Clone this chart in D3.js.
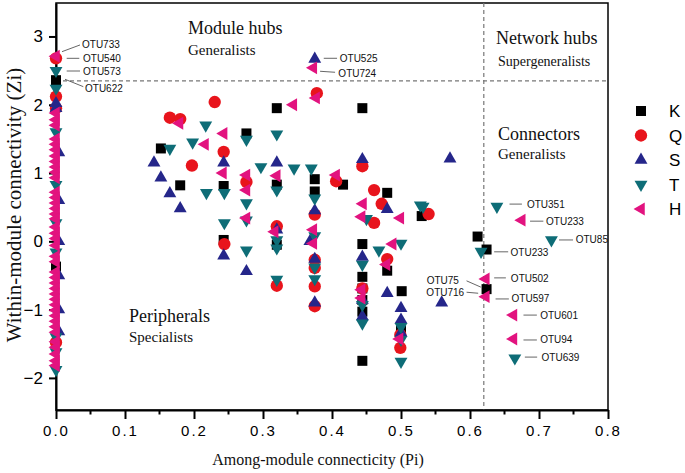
<!DOCTYPE html>
<html>
<head>
<meta charset="utf-8">
<script src="https://cdn.jsdelivr.net/npm/d3@7"></script>
<style>
  body { margin: 0; background: #fff; }
  .tick text { font-family: "Liberation Sans", Arial, sans-serif; fill: #000; }
  .region { font-family: "Liberation Serif", "Times New Roman", serif; fill: #111; }
  .otu { font-family: "Liberation Sans", Arial, sans-serif; font-size: 10px; fill: #111; }
</style>
</head>
<body>
<div id="viz"></div>
<script>
// Pi (among-module) / Zi (within-module) pairs
let kPoints = [[0,2.36],[0,-0.37],[0.152,1.36],[0.180,0.82],[0.243,0.81],[0.243,0.02],[0.276,1.58],
  [0.320,1.95],[0.320,0.83],[0.320,-0.05],[0.375,0.91],[0.375,0.73],[0.416,0.83],[0.444,1.95],[0.444,-0.04],
  [0.444,-0.52],[0.444,-0.69],[0.444,-0.86],[0.444,-1.03],[0.444,-1.75],[0.480,0.71],[0.480,-0.43],
  [0.501,-0.73],[0.500,-1.30],[0.530,0.37],[0.611,0.07],[0.624,-0.12],[0.624,-0.70]];
let qPoints = [[0,2.68],[0,2.12],[0,1.95],[0,-1.48],[0.230,2.04],[0.165,1.81],[0.180,1.79],[0.243,1.31],
  [0.197,1.11],[0.244,-0.04],[0.378,2.17],[0.444,1.10],[0.406,0.88],[0.276,0.87],[0.461,0.75],[0.472,0.55],
  [0.461,0.27],[0.540,0.40],[0.320,0.22],[0.320,-0.65],[0.375,0.39],[0.375,-0.27],[0.375,-0.39],
  [0.375,-0.66],[0.375,-0.95],[0.480,-0.26],[0.444,-0.69],[0.499,-1.56],[0.499,-1.37]];
let sPoints = [[0,2.02],[0,1.95],[0.004,1.30],[0.004,0.60],[0.004,0.00],[0.004,-0.50],[0.004,-1.00],
  [0.004,-1.32],[0.375,2.67],[0.142,1.15],[0.152,0.93],[0.165,0.70],[0.180,0.48],[0.243,1.15],[0.243,-0.21],
  [0.276,-0.44],[0.320,1.15],[0.320,0.17],[0.444,1.20],[0.571,1.21],[0.375,0.45],[0.480,0.47],[0.368,0.00],
  [0.375,-0.26],[0.375,-0.90],[0.444,-0.23],[0.444,-0.86],[0.444,-1.10],[0.480,-0.76],[0.500,-0.98],
  [0.500,-1.15],[0.500,-1.34],[0.559,-0.90]];
let tPoints = [[0,2.50],[0,2.24],[0,1.60],[0,0.83],[0,0.27],[0,-0.16],[0,-1.40],[0,-1.62],[0,-1.88],
  [0.217,1.70],[0.198,1.45],[0.165,1.36],[0.276,1.49],[0.218,0.71],[0.244,0.71],[0.244,0.27],[0.276,0.56],
  [0.276,0.31],[0.276,-0.13],[0.297,1.09],[0.320,1.57],[0.320,0.75],[0.320,0.02],[0.320,-0.10],[0.320,-0.56],
  [0.345,1.07],[0.370,1.07],[0.375,0.63],[0.375,0.08],[0.375,-0.38],[0.375,-0.55],[0.444,-0.34],
  [0.444,-0.93],[0.444,-1.20],[0.450,0.33],[0.468,-0.13],[0.500,-0.03],[0.528,0.53],[0.532,0.51],
  [0.500,-1.25],[0.500,-1.44],[0.500,-1.76],[0.616,-0.15],[0.639,0.51],[0.718,0.02],[0.665,-1.71]];
let hPoints = [[0,2.71],[0,1.88],[0,1.78],[0,1.70],[0,1.50],[0,1.42],[0,1.34],[0,1.25],[0,1.17],[0,1.09],
  [0,1.01],[0,0.93],[0,0.72],[0,0.64],[0,0.56],[0,0.48],[0,0.40],[0,0.33],[0,0.21],[0,0.12],[0,0.04],
  [0,-0.06],[0,-0.22],[0,-0.30],[0,-0.45],[0,-0.53],[0,-0.61],[0,-0.69],[0,-0.77],[0,-0.85],[0,-0.93],
  [0,-1.01],[0,-1.09],[0,-1.17],[0,-1.25],[0,-1.33],[0,-1.47],[0,-1.55],[0,-1.65],[0,-1.75],[0,-1.82],
  [0.373,2.54],[0.377,2.10],[0.344,2.00],[0.179,1.73],[0.243,1.58],[0.216,1.42],
  [0.242,1.00],[0.276,0.97],[0.276,0.75],[0.320,0.96],[0.406,0.97],[0.445,0.55],[0.443,0.36],[0.499,0.34],
  [0.488,-0.04],[0.479,-0.34],[0.276,0.34],[0.317,0.14],[0.373,0.17],[0.373,-0.03],[0.443,-0.71],
  [0.443,-0.83],[0.498,-1.43],[0.623,-0.55],[0.623,-0.81],[0.675,0.31],[0.663,-1.08],[0.663,-1.43]];

let seriesNames = ['K','Q','S','T','H'];
let seriesColors = ['#000000','#e8141c','#25268a','#0e6d77','#e2137f'];
let xTicks = [0,0.1,0.2,0.3,0.4,0.5,0.6,0.7,0.8];
let yTicks = [-2,-1,0,1,2,3];
let hubZi = 2.35, connPi = 0.62;

// labelled OTUs: [name, Pi, Zi, line x1,y1,x2,y2 and text x,y offsets in px, anchor]
let otuLabels = [
  ['OTU733',0,2.71, 6,-4.6,24,-11.3, 26,-8,'start'],
  ['OTU540',0,2.68, 10.7,0,23.3,0, 27,3.7,'start'],
  ['OTU573',0,2.50, 10.7,0.4,24,0.4, 27,4,'start'],
  ['OTU622',0,2.36, 9,-0.9,27.3,6.5, 29,12,'start'],
  ['OTU525',0.375,2.67, 9,-0.7,22.3,-0.7, 25,3,'start'],
  ['OTU724',0.373,2.54, 6.7,3.4,21.7,4.4, 25,8.7,'start'],
  ['OTU351',0.639,0.51, 12.6,-2.4,25,-2.4, 30,1.3,'start'],
  ['OTU233',0.675,0.31, 8.3,1,21.6,1, 24.3,4.5,'start'],
  ['OTU85',0.718,0.02, 7.6,0,21.6,0, 24.3,3.5,'start'],
  ['OTU233',0.624,-0.12, 7.6,2.3,21.6,2.3, 24,6,'start'],
  ['OTU502',0.623,-0.55, 8.3,-1,20,-1, 25,3.2,'start'],
  ['OTU597',0.623,-0.81, 9.7,2.3,23,2.3, 25.7,5.8,'start'],
  ['OTU75',0.624,-0.70, -20,-8.3,-5.7,-2, -27.7,-5,'end'],
  ['OTU716',0.623,-0.81, -19.3,-4.4,-7.7,-3.4, -21.7,-0.7,'end'],
  ['OTU601',0.663,-1.08, 10,0,23.4,0, 26.7,3.5,'start'],
  ['OTU94',0.663,-1.43, 10,1,23.4,1, 26.7,4.2,'start'],
  ['OTU639',0.665,-1.71, 10,-1,22.3,-1, 26.7,2.7,'start']
];

let width = 685, height = 473;
let x = d3.scaleLinear().domain([0,0.8]).range([56,608]);
let y = d3.scaleLinear().domain([-2.47,3.49]).range([410,3]);

let svg = d3.select('#viz').append('svg')
    .attr('width',width).attr('height',height)
    .style('font-family','Liberation Sans, Arial, sans-serif');

// frame
svg.append('rect')
    .attr('x',x(0)).attr('y',y(3.49))
    .attr('width',x(0.8)-x(0)).attr('height',y(-2.47)-y(3.49))
    .attr('fill','none').attr('stroke','#000').attr('stroke-width',1.5);

// threshold lines
svg.append('line')
    .attr('x1',x(0)).attr('x2',x(0.8)).attr('y1',y(hubZi)).attr('y2',y(hubZi))
    .attr('stroke','#777').attr('stroke-width',1.2).attr('stroke-dasharray','4,3');
svg.append('line')
    .attr('x1',x(connPi)).attr('x2',x(connPi)).attr('y1',y(3.49)).attr('y2',y(-2.47))
    .attr('stroke','#777').attr('stroke-width',1.2).attr('stroke-dasharray','4,3');

// axes
let xAxis = svg.append('g')
    .attr('transform','translate(0,'+y(-2.47)+')')
    .call(d3.axisBottom(x).tickValues(xTicks).tickFormat(d3.format('.1f')).tickSize(9).tickSizeOuter(0).tickPadding(6));
xAxis.selectAll('.tick text').style('font-size','15px').style('letter-spacing','2px');
xAxis.append('g').selectAll('line')
    .data(xTicks.slice(0,-1).map(d=>d+0.05))
    .enter().append('line')
      .attr('x1',d=>x(d)).attr('x2',d=>x(d)).attr('y1',0).attr('y2',4.5)
      .attr('stroke','#000').attr('stroke-width',2);

let yAxis = svg.append('g')
    .attr('transform','translate('+x(0)+',0)')
    .call(d3.axisLeft(y).tickValues(yTicks).tickFormat(d3.format('d')).tickSize(7).tickSizeOuter(0).tickPadding(6));
yAxis.selectAll('.tick text').style('font-size','17px');
svg.selectAll('.domain').attr('stroke-width',2);
svg.selectAll('.tick line').attr('stroke-width',2);

// points
let shapes = [
  {type:d3.symbolSquare, size:100, rot:0},
  {type:d3.symbolCircle, size:120, rot:0},
  {type:d3.symbolTriangle, size:72, rot:0},
  {type:d3.symbolTriangle, size:72, rot:180},
  {type:d3.symbolTriangle, size:72, rot:-90}
];
let allPoints = [kPoints,qPoints,sPoints,tPoints,hPoints];

allPoints.forEach(function(pts,i){
  let sh = shapes[i];
  svg.append('g').selectAll('path').data(pts)
    .enter().append('path')
      .attr('d',d3.symbol().type(sh.type).size(sh.size))
      .attr('transform',function(d){
        return 'translate('+x(d[0])+','+y(d[1])+') rotate('+sh.rot+')';
      })
      .attr('fill',seriesColors[i]);
});

// OTU labels
let lab = svg.append('g');
otuLabels.forEach(function(a){
  let px = x(a[1]), py = y(a[2]);
  lab.append('line')
    .attr('x1',px+a[3]).attr('y1',py+a[4]).attr('x2',px+a[5]).attr('y2',py+a[6])
    .attr('stroke','#555').attr('stroke-width',0.9);
  lab.append('text').attr('class','otu')
    .attr('x',px+a[7]).attr('y',py+a[8]).attr('text-anchor',a[9])
    .text(a[0]);
});

// region captions
let regions = [
  ['Module hubs',188,34,18],['Generalists',188,55,15],
  ['Network hubs',496,44,18],['Supergeneralists',498,66,14],
  ['Connectors',498,140,18],['Generalists',498,159,15],
  ['Peripherals',129,322,18],['Specialists',129,342,15]
];
svg.append('g').selectAll('text').data(regions)
  .enter().append('text').attr('class','region')
    .attr('x',d=>d[1]).attr('y',d=>d[2])
    .style('font-size',d=>d[3]+'px')
    .text(d=>d[0]);

// legend
let legend = svg.append('g').attr('transform','translate(641,111)');
seriesNames.forEach(function(n,i){
  let sh = shapes[i];
  legend.append('path')
    .attr('d',d3.symbol().type(sh.type).size(sh.size))
    .attr('transform','translate(0,'+(i*24.5)+') rotate('+sh.rot+')')
    .attr('fill',seriesColors[i]);
  legend.append('text')
    .attr('x',28).attr('y',i*24.5+6)
    .style('font-size','17px')
    .text(n);
});

// axis titles
svg.append('text').attr('class','region')
    .attr('x',318).attr('y',465).attr('text-anchor','middle')
    .style('font-size','16px')
    .text('Among-module connecticity (Pi)');
svg.append('text').attr('class','region')
    .attr('transform','translate(21,205) rotate(-90)').attr('text-anchor','middle')
    .style('font-size','21px')
    .text('Within-module connectivity (Zi)');
</script>
</body>
</html>
